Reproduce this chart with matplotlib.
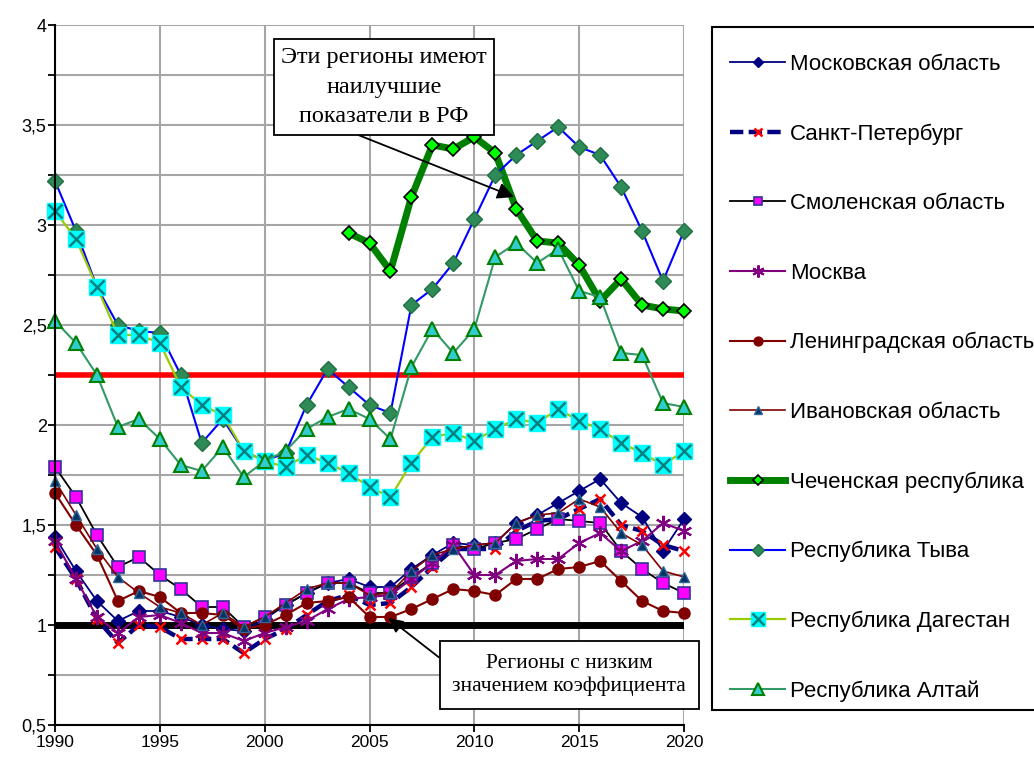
import numpy as np
import matplotlib
matplotlib.use("Agg")
import matplotlib.pyplot as plt
from matplotlib.patches import Rectangle
from matplotlib.ticker import MultipleLocator, FuncFormatter
from matplotlib.legend_handler import HandlerTuple

years = list(range(1990, 2021))
years_chechnya = list(range(2004, 2021))

moscow_obl = [1.44, 1.27, 1.12, 1.02, 1.07, 1.07, 1.04, 1.00, 0.98, 0.97, 1.03,
              1.10, 1.16, 1.21, 1.23, 1.19, 1.19, 1.28, 1.35, 1.41, 1.40, 1.41,
              1.51, 1.55, 1.61, 1.67, 1.73, 1.61, 1.54, 1.37, 1.53]
spb = [1.39, 1.23, 1.03, 0.91, 1.00, 0.99, 0.93, 0.93, 0.93, 0.86, 0.93,
       0.98, 1.05, 1.12, 1.15, 1.10, 1.11, 1.19, 1.29, 1.38, 1.38, 1.38,
       1.47, 1.52, 1.53, 1.58, 1.63, 1.50, 1.47, 1.40, 1.37]
smolensk = [1.79, 1.64, 1.45, 1.29, 1.34, 1.25, 1.18, 1.09, 1.09, 0.99, 1.04,
            1.10, 1.16, 1.21, 1.21, 1.16, 1.16, 1.24, 1.31, 1.40, 1.38, 1.41,
            1.43, 1.48, 1.53, 1.52, 1.51, 1.37, 1.28, 1.21, 1.16]
moscow = [1.42, 1.23, 1.04, 0.96, 1.04, 1.05, 1.01, 0.96, 0.96, 0.92, 0.96,
          0.99, 1.02, 1.08, 1.13, 1.14, 1.15, 1.23, 1.31, 1.40, 1.25, 1.25,
          1.32, 1.33, 1.33, 1.41, 1.46, 1.37, 1.42, 1.51, 1.47]
leningrad = [1.66, 1.50, 1.35, 1.12, 1.17, 1.14, 1.06, 1.06, 1.05, 0.98, 1.00,
             1.05, 1.11, 1.12, 1.14, 1.04, 1.04, 1.08, 1.13, 1.18, 1.17, 1.15,
             1.23, 1.23, 1.28, 1.29, 1.32, 1.22, 1.12, 1.07, 1.06]
ivanovo = [1.72, 1.55, 1.38, 1.24, 1.16, 1.09, 1.06, 1.00, 1.06, 0.99, 1.04,
           1.11, 1.18, 1.21, 1.21, 1.15, 1.16, 1.27, 1.35, 1.38, 1.40, 1.41,
           1.51, 1.55, 1.56, 1.63, 1.59, 1.46, 1.40, 1.27, 1.24]
chechnya = [2.96, 2.91, 2.77, 3.14, 3.40, 3.38, 3.44, 3.36, 3.08, 2.92, 2.91,
            2.80, 2.62, 2.73, 2.60, 2.58, 2.57]
tyva = [3.22, 2.97, 2.69, 2.50, 2.47, 2.46, 2.25, 1.91, 2.03, 1.87, 1.82,
        1.86, 2.10, 2.28, 2.19, 2.10, 2.06, 2.60, 2.68, 2.81, 3.03, 3.25,
        3.35, 3.42, 3.49, 3.39, 3.35, 3.19, 2.97, 2.72, 2.97]
dagestan = [3.07, 2.93, 2.69, 2.45, 2.45, 2.41, 2.19, 2.10, 2.05, 1.87, 1.82,
            1.79, 1.85, 1.81, 1.76, 1.69, 1.64, 1.81, 1.94, 1.96, 1.92, 1.98,
            2.03, 2.01, 2.08, 2.02, 1.98, 1.91, 1.86, 1.80, 1.87]
altai = [2.52, 2.41, 2.25, 1.99, 2.03, 1.93, 1.80, 1.77, 1.89, 1.74, 1.82,
         1.87, 1.98, 2.04, 2.08, 2.03, 1.93, 2.29, 2.48, 2.36, 2.48, 2.84,
         2.91, 2.81, 2.88, 2.67, 2.64, 2.36, 2.35, 2.11, 2.09]

upper_level = 2.25
lower_level = 1.0

plt.rcParams['font.family'] = ['Liberation Sans', 'DejaVu Sans']

W, H = 1034, 761
fig = plt.figure(figsize=(W / 100, H / 100), dpi=100)
ax = fig.add_axes([55 / W, 1 - 725 / H, 629 / W, 700 / H])

ax.plot([years[0], years[-1]], [upper_level, upper_level], color="#FF0000", lw=4, zorder=2)
ax.plot([years[0], years[-1]], [lower_level, lower_level], color="black", lw=5, zorder=2)

common = dict(clip_on=False)
h_mo, = ax.plot(years, moscow_obl, color="#000080", lw=1.3, marker="D", ms=7,
                mfc="#000080", mec="#000080", **common)
h_spb, = ax.plot(years, spb, color="#000080", lw=3.2, ls=(0, (3, 1.2)), marker="x",
                 ms=7, mec="#FF0000", mew=1.8, **common)
h_sm, = ax.plot(years, smolensk, color="black", lw=1.3, marker="s", ms=8,
                mfc="#FF00FF", mec="#333399", mew=1.2, **common)
h_msk, = ax.plot(years, moscow, color="#800080", lw=1.5, marker=(6, 2, 0), ms=11,
                 mec="#800080", mew=1.5, **common)
h_len, = ax.plot(years, leningrad, color="#800000", lw=1.5, marker="o", ms=8,
                 mfc="#800000", mec="#800000", **common)
h_iv, = ax.plot(years, ivanovo, color="#800000", lw=1.2, marker="^", ms=7,
                mfc="#003366", mec="#336699", **common)
h_ch, = ax.plot(years_chechnya, chechnya, color="#008000", lw=5, marker="D", ms=7,
                mfc="#00FF00", mec="black", mew=1.2, **common)
h_ty, = ax.plot(years, tyva, color="#0000FF", lw=1.5, marker="D", ms=8,
                mfc="#2E8B57", mec="#1E7040", **common)
h_dg, = ax.plot(years, dagestan, color="#99CC00", lw=1.6, marker="s", ms=12,
                mfc="#00FFFF", mec="#00FFFF", **common)
h_dgx, = ax.plot(years, dagestan, ls="none", marker="x", ms=10, mec="#008080", mew=1.8,
                 **common)
h_al, = ax.plot(years, altai, color="#339966", lw=1.5, marker="^", ms=10,
                mfc="#33CCCC", mec="#008000", mew=1.5, **common)

ax.set_xlim(1990, 2020)
ax.set_ylim(0.5, 4)
ax.xaxis.set_major_locator(MultipleLocator(5))
ax.yaxis.set_major_locator(MultipleLocator(0.5))
ax.yaxis.set_minor_locator(MultipleLocator(0.25))
ax.yaxis.set_major_formatter(FuncFormatter(lambda v, p: f"{v:g}".replace(".", ",")))
ax.grid(True, which="both", color="#A6A6A6", lw=1.5)
ax.set_axisbelow(True)
for s in ["top", "right"]:
    ax.spines[s].set_visible(False)
for s in ["left", "bottom"]:
    ax.spines[s].set_linewidth(1.5)
ax.tick_params(axis="both", which="both", direction="out", length=5, width=1.3,
               labelsize=12.5, pad=2)
ax.tick_params(axis="y", labelsize=13, pad=1)

ax.annotate("Эти регионы имеют\nнаилучшие\nпоказатели в РФ", xy=(2011.9, 3.14),
            xytext=(2005.7, 3.69), ha="center", va="center", fontsize=17.5,
            family="Liberation Serif", linespacing=1.55,
            bbox=dict(boxstyle="square,pad=0.3", fc="white", ec="black", lw=1.3),
            zorder=10,
            arrowprops=dict(arrowstyle="-|>", color="black", lw=1.3, mutation_scale=25,
                            shrinkA=0, shrinkB=0, relpos=(0.28, 0.0)),
            annotation_clip=False)
ax.annotate("Регионы с низким\nзначением коэффициента", xy=(2005.9, 1.035),
            xytext=(2014.53, 0.75), ha="center", va="center", fontsize=15.5,
            family="Liberation Serif", linespacing=1.25,
            bbox=dict(boxstyle="square,pad=0.6", fc="white", ec="black", lw=1.3),
            zorder=10,
            arrowprops=dict(arrowstyle="-|>", color="black", lw=1.3, mutation_scale=22,
                            shrinkA=0, shrinkB=0, relpos=(0.0, 0.67)),
            annotation_clip=False)

# legend frame drawn separately: the original box runs off the right edge
fig.patches.append(Rectangle((712 / W, 1 - 710 / H), (1045 - 712) / W, (710 - 27) / H,
                             transform=fig.transFigure, fc="white", ec="black", lw=1.5,
                             zorder=0))

handles = [h_mo, h_spb, h_sm, h_msk, h_len, h_iv, h_ch, h_ty, (h_dg, h_dgx), h_al]
labels = ["Московская область", "Санкт-Петербург", "Смоленская область", "Москва",
          "Ленинградская область", "Ивановская область", "Чеченская республика",
          "Республика Тыва", "Республика Дагестан", "Республика Алтай"]
leg = fig.legend(handles, labels, loc="upper left", bbox_to_anchor=(730 / W, 1 - 54 / H),
                 fontsize=16, frameon=False, labelspacing=2.18, handlelength=2.48,
                 handletextpad=0.23, borderpad=0, borderaxespad=0, markerscale=0.8,
                 handler_map={tuple: HandlerTuple(ndivide=1, pad=0)})

fig.savefig("out.png", dpi=100)
